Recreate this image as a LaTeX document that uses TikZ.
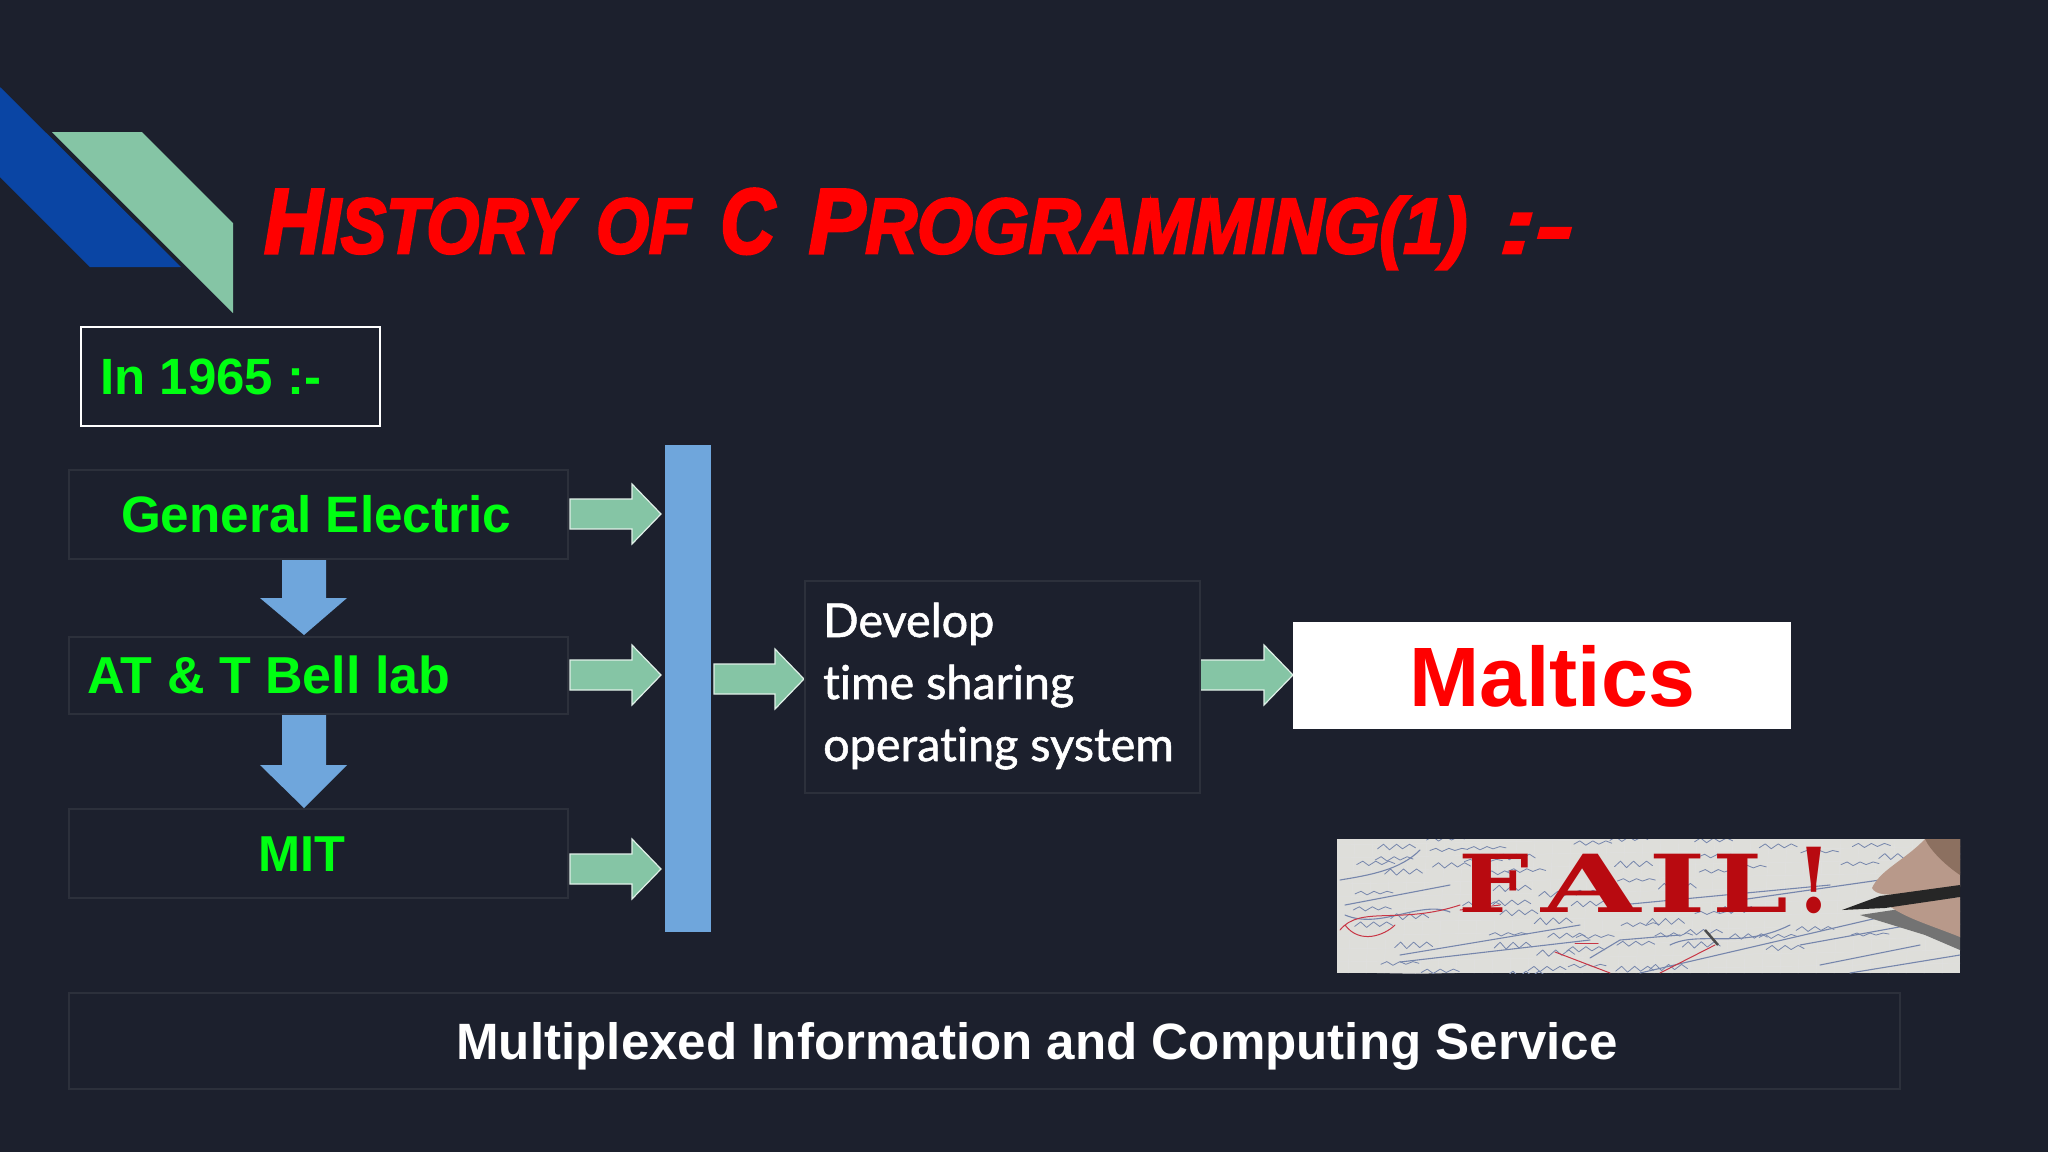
\documentclass[tikz,border=0pt]{standalone}
\usepackage{fontspec}
\setmainfont{Liberation Sans}
\newfontfamily\lato{Lato}[FakeBold=1.2,Ligatures=NoCommon]
\newfontfamily\slab{DejaVu Serif}[BoldFont={* Bold}]
\newfontfamily\brush{Liberation Sans}[BoldItalicFeatures={FakeBold=3.5}]
\definecolor{bgc}{HTML}{1C202D}
\definecolor{navy}{HTML}{0A45A4}
\definecolor{mint}{HTML}{85C5A5}
\definecolor{sky}{HTML}{6FA6DC}
\definecolor{faint}{HTML}{2C303B}
\definecolor{lime}{HTML}{00FF12}
\definecolor{paper}{HTML}{DEDEDA}
\definecolor{ink}{HTML}{7686AC}
\definecolor{paint}{HTML}{B80A10}
\definecolor{skin}{HTML}{B8998A}
\definecolor{skind}{HTML}{8C7060}
\tikzset{
  x=1pt,y=-1pt,
  panel/.style={draw=faint,line width=1.5pt,fill=none,anchor=north west,inner sep=0pt},
  gtext/.style={text=lime,inner sep=0pt},
  wtext/.style={text=white,inner sep=0pt,anchor=base west,font=\lato\fontsize{46.7}{46}\selectfont},
  rarrow/.style={fill=mint,draw=white!75!mint,line width=1.2pt,line join=miter},
  darrow/.style={fill=sky,draw=none},
  scrib/.style={draw=ink,line width=1.1pt,line cap=round,line join=round},
  scribr/.style={draw=red!60!ink,line width=1pt,line cap=round,line join=round},
}
\newcommand{\RArrow}[3]{% x start, tip x, y centre
  \draw[rarrow] (#1,#3-15) -- (#2-29,#3-15) -- (#2-29,#3-30) -- (#2,#3) -- (#2-29,#3+30) -- (#2-29,#3+15) -- (#1,#3+15) -- cycle;}
\newcommand{\DArrow}[3]{% y start, head y, tip y
  \fill[darrow] (282,#1) -- (326,#1) -- (326,#2) -- (347,#2) -- (304,#3) -- (260,#2) -- (282,#2) -- cycle;}
\newcommand{\bg}[1]{{\fontsize{92}{92}\selectfont #1}}
\begin{document}
\begin{tikzpicture}
\fill[bgc] (0,0) rectangle (2048,1152);
\useasboundingbox (0,0) rectangle (2048,1152);
% corner ribbons
\fill[navy] (0,87) -- (181,267) -- (90,267) -- (0,177) -- cycle;
\fill[mint] (52,132) -- (142,132) -- (233,223) -- (233,313) -- cycle;
% title
\node[anchor=base west,inner sep=0pt,text=red] (title) at (264,253)
  {\brush\bfseries\itshape\fontsize{78}{78}\selectfont
   \scalebox{0.87}[1]{\bg{H}ISTORY}\hspace{24pt}\scalebox{0.87}[1]{OF}\hspace{30pt}\scalebox{0.82}[1]{\bg{C}}\hspace{34pt}\scalebox{0.92}[1]{\bg{P}ROGRAMMING(1)}\hspace{32pt}\scalebox{1.42}[1]{:-}};
% date
\node[draw=white,line width=2pt,minimum width=299pt,minimum height=99pt,anchor=north west,inner sep=0pt] (date) at (80,326) {};
\node[gtext,font=\fontsize{51}{51}\selectfont\bfseries,anchor=base west] (datet) at (100,394) {In 1965 :-};
% panels
\node[panel,minimum width=499pt,minimum height=89pt] (ge) at (68,469) {};
\node[panel,minimum width=499pt,minimum height=77pt] (att) at (68,636) {};
\node[panel,minimum width=499pt,minimum height=89pt] (mit) at (68,808) {};
\node[gtext,font=\fontsize{51.2}{51}\selectfont\bfseries,anchor=base] (get) at (316,532) {General Electric};
\node[gtext,font=\fontsize{52}{52}\selectfont\bfseries,anchor=base west] (attt) at (87,693) {AT \& T Bell lab};
\node[gtext,font=\fontsize{50.5}{50}\selectfont\bfseries,anchor=base] (mitt) at (302,871) {MIT};
% bar
\node[fill=sky,draw=none,anchor=north west,minimum width=46pt,minimum height=487pt,inner sep=0pt] (bar) at (665,445) {};
% arrows
\RArrow{570}{661}{514}
\RArrow{570}{661}{675}
\RArrow{570}{661}{869}
\RArrow{714}{804}{679}
\RArrow{1200}{1293}{675}
\DArrow{560}{598}{635}
\DArrow{715}{765}{808}
% develop
\node[panel,minimum width=395pt,minimum height=212pt] (dev) at (804,580) {};
\node[wtext] (dev1) at (823,637) {Develop};
\node[wtext] (dev2) at (823,699) {time sharing};
\node[wtext] (dev3) at (823,761) {operating system};
% maltics
\node[fill=white,anchor=north west,minimum width=498pt,minimum height=107pt,inner sep=0pt] (mal) at (1293,622) {};
\node[text=red,font=\fontsize{84.3}{84}\selectfont\bfseries,anchor=base,inner sep=0pt] (malt) at (1552,706) {Maltics};
% fail picture
\begin{scope}
\clip (1337,839) rectangle (1960,973);
\fill[paper] (1337,839) rectangle (1960,973);
\foreach \i in {0,...,34} \draw[black!12,line width=.5pt] (1337+\i*18,839) -- (1330+\i*18,973);
\foreach \i in {0,...,12} \draw[black!12,line width=.5pt] (1337,832+\i*13) -- (1960,820+\i*13);
% rows of handwritten marks, rising to the right
\pgfmathsetseed{7}
\foreach \r in {0,...,11}{
  \foreach \k in {0,...,16}{
    \pgfmathsetmacro{\xa}{1337+\k*38+rnd*22}
    \pgfmathsetmacro{\ya}{850+\r*15+(1337-\xa)*0.16+rnd*6}
    \pgfmathsetmacro{\ha}{2+rnd*4}
    \pgfmathtruncatemacro{\keep}{rnd>0.5 ? 1 : 0}
    \ifnum\keep=1
      \draw[scrib,line width=.8pt] (\xa,\ya) -- ++(6,-\ha) -- ++(6,\ha+1) -- ++(7,-\ha-1) -- ++(6,\ha) -- ++(7,-\ha) -- ++(6,\ha-1);
    \fi
  }
}
% long formula strokes
\draw[scrib] (1340,880) .. controls (1370,875) and (1400,870) .. (1420,850);
\draw[scrib] (1345,905) -- (1450,885) (1345,915) .. controls (1380,930) and (1420,900) .. (1450,912);
\draw[scribr] (1340,930) .. controls (1360,905) and (1400,925) .. (1460,905) (1345,925) .. controls (1360,945) and (1385,935) .. (1395,925);
\draw[scribr] (1460,910) -- (1500,905);
\draw[scrib] (1400,955) -- (1580,925) (1400,962) -- (1590,940);
\draw[scrib] (1590,958) -- (1620,940) -- (1680,935) (1640,973) -- (1890,915);
\draw[scrib] (1670,945) .. controls (1700,930) and (1740,950) .. (1790,925);
\draw[scrib] (1800,945) -- (1910,925) (1820,965) -- (1920,945) (1850,973) -- (1960,955);
\draw[scrib] (1620,905) -- (1830,885) (1740,900) -- (1880,880);
\draw[scribr] (1555,952) -- (1610,973) (1715,945) -- (1660,973);
\draw[scribr] (1575,943) -- (1598,943);
\draw[draw=black!70,line width=2.5pt] (1705,930) -- (1718,945);
% hand and pen
\fill[black!55] (1860,915) -- (1960,900) -- (1960,950) -- (1925,935) -- cycle;
\fill[skin] (1925,839) -- (1960,839) -- (1960,887) -- (1905,893) .. controls (1890,896) and (1875,895) .. (1872,888) .. controls (1880,870) and (1905,860) .. (1925,839) -- cycle;
\fill[skind] (1925,839) -- (1960,839) -- (1960,875) .. controls (1945,865) and (1930,850) .. cycle;
\fill[skin] (1888,905) -- (1960,897) -- (1960,937) .. controls (1930,925) and (1905,918) .. (1888,905) -- cycle;
\fill[black!85] (1842,910) -- (1880,896) -- (1960,885) -- (1960,897) -- (1885,908) -- cycle;
\end{scope}
\node[text=paint,font=\slab\bfseries\fontsize{80}{80}\selectfont,anchor=base west,inner sep=0pt] (fail) at (1458,912)
  {\scalebox{1.25}[1]{F}\hspace{12pt}\scalebox{1.6}[1]{A}\hspace{8pt}\scalebox{1.55}[1]{I}\hspace{6pt}\scalebox{1.35}[1]{L}\hspace{8pt}\scalebox{1}[1.12]{!}};
% footer
\node[panel,minimum width=1831pt,minimum height=96pt] (foot) at (68,992) {};
\node[text=white,font=\fontsize{51.1}{51}\selectfont\bfseries,anchor=base,inner sep=0pt] (foott) at (1037,1059) {Multiplexed Information and Computing Service};
\end{tikzpicture}
\end{document}
